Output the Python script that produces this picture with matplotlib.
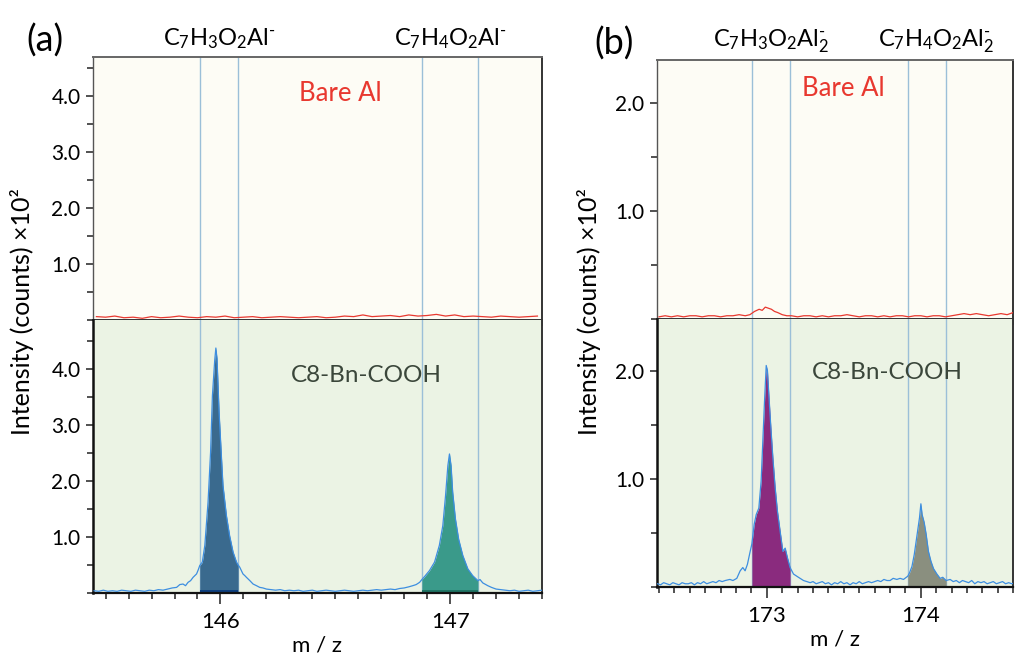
import matplotlib
matplotlib.use("Agg")
import matplotlib.pyplot as plt
from matplotlib.ticker import FixedLocator, MultipleLocator
import numpy as np

plt.rcParams['font.family'] = ['Lato', 'DejaVu Sans']
plt.rcParams['mathtext.fontset'] = 'custom'
plt.rcParams['mathtext.rm'] = 'Lato'
plt.rcParams['mathtext.it'] = 'Lato:italic'

# ---- panel (a): C8-Bn-COOH spectrum (intensity x10^2)
mz_a = [145.45, 145.47, 145.49, 145.51, 145.53, 145.55, 145.57, 145.59, 145.61, 145.63,
        145.65, 145.67, 145.69, 145.71, 145.73, 145.75, 145.77, 145.79, 145.809, 145.823,
        145.837, 145.848, 145.859, 145.870, 145.881, 145.896, 145.903, 145.91, 145.921, 145.932,
        145.946, 145.957, 145.965, 145.975, 145.980, 145.985, 145.994, 146.004, 146.011, 146.026,
        146.040, 146.055, 146.070, 146.077, 146.084, 146.091, 146.098, 146.106, 146.113, 146.128,
        146.142, 146.157, 146.171, 146.185, 146.20, 146.22, 146.24, 146.26, 146.28, 146.30,
        146.32, 146.34, 146.36, 146.38, 146.40, 146.42, 146.44, 146.46, 146.48, 146.50,
        146.52, 146.54, 146.56, 146.58, 146.60, 146.62, 146.64, 146.66, 146.68, 146.70,
        146.72, 146.74, 146.76, 146.78, 146.80, 146.82, 146.837, 146.852, 146.867, 146.877,
        146.89, 146.91, 146.932, 146.953, 146.968, 146.98, 146.99, 146.997, 147.004, 147.011,
        147.023, 147.037, 147.055, 147.077, 147.098, 147.121, 147.13, 147.142, 147.164, 147.18,
        147.20, 147.22, 147.24, 147.26, 147.28, 147.30, 147.32, 147.34, 147.36, 147.38, 147.40]
int_a = [0.04, 0.03, 0.05, 0.03, 0.04, 0.03, 0.05, 0.04, 0.03, 0.05,
         0.04, 0.03, 0.05, 0.04, 0.06, 0.05, 0.07, 0.09, 0.10, 0.15,
         0.16, 0.13, 0.19, 0.22, 0.28, 0.34, 0.41, 0.49, 0.55, 0.85,
         1.62, 2.51, 3.52, 4.15, 4.37, 4.18, 3.23, 2.45, 1.92, 1.38,
         1.02, 0.73, 0.55, 0.50, 0.46, 0.40, 0.34, 0.31, 0.28, 0.22,
         0.16, 0.13, 0.10, 0.09, 0.07, 0.06, 0.05, 0.06, 0.04, 0.05,
         0.04, 0.05, 0.03, 0.04, 0.05, 0.03, 0.04, 0.05, 0.04, 0.03,
         0.04, 0.05, 0.04, 0.03, 0.04, 0.05, 0.04, 0.05, 0.06, 0.05,
         0.06, 0.07, 0.06, 0.08, 0.09, 0.11, 0.13, 0.15, 0.19, 0.24,
         0.30, 0.40, 0.55, 0.85, 1.20, 1.74, 2.27, 2.48, 2.27, 1.80,
         1.32, 0.96, 0.67, 0.43, 0.31, 0.22, 0.24, 0.18, 0.13, 0.10,
         0.07, 0.06, 0.05, 0.04, 0.05, 0.03, 0.04, 0.05, 0.03, 0.04, 0.05]

# ---- panel (a): bare Al
mz_bare_a = [145.46, 145.50, 145.54, 145.58, 145.62, 145.66, 145.70, 145.74, 145.78, 145.82,
             145.86, 145.90, 145.94, 145.98, 146.02, 146.06, 146.10, 146.14, 146.18, 146.22,
             146.26, 146.30, 146.34, 146.38, 146.42, 146.46, 146.50, 146.54, 146.58, 146.62,
             146.66, 146.70, 146.74, 146.78, 146.82, 146.86, 146.90, 146.94, 146.98, 147.02,
             147.06, 147.10, 147.14, 147.18, 147.22, 147.26, 147.30, 147.34, 147.38]
int_bare_a = [0.06, 0.05, 0.07, 0.04, 0.05, 0.03, 0.06, 0.04, 0.05, 0.07,
              0.05, 0.04, 0.06, 0.05, 0.07, 0.04, 0.05, 0.06, 0.04, 0.05,
              0.06, 0.05, 0.04, 0.05, 0.06, 0.04, 0.05, 0.07, 0.06, 0.09,
              0.06, 0.07, 0.08, 0.06, 0.09, 0.07, 0.08, 0.10, 0.07, 0.09,
              0.06, 0.07, 0.06, 0.05, 0.07, 0.06, 0.05, 0.06, 0.07]

# ---- panel (b): C8-Bn-COOH spectrum
mz_b = [172.29, 172.31, 172.33, 172.35, 172.37, 172.39, 172.41, 172.43, 172.45, 172.47,
        172.49, 172.51, 172.53, 172.55, 172.57, 172.59, 172.61, 172.63, 172.65, 172.67,
        172.69, 172.71, 172.73, 172.76, 172.78, 172.805, 172.827, 172.844, 172.859, 172.874,
        172.892, 172.903, 172.918, 172.931, 172.948, 172.963, 172.974, 172.985, 172.996, 173.004,
        173.013, 173.026, 173.039, 173.054, 173.069, 173.086, 173.104, 173.119, 173.134, 173.151,
        173.173, 173.205, 173.238, 173.26, 173.281, 173.30, 173.32, 173.34, 173.36, 173.38,
        173.40, 173.42, 173.44, 173.46, 173.48, 173.50, 173.52, 173.54, 173.56, 173.58,
        173.60, 173.62, 173.64, 173.66, 173.68, 173.70, 173.72, 173.74, 173.76, 173.78,
        173.80, 173.82, 173.844, 173.865, 173.887, 173.915, 173.926, 173.942, 173.957, 173.97,
        173.982, 173.991, 174.00, 174.008, 174.021, 174.034, 174.049, 174.065, 174.082, 174.104,
        174.125, 174.142, 174.164, 174.19, 174.21, 174.23, 174.25, 174.27, 174.29, 174.31,
        174.33, 174.35, 174.37, 174.39, 174.41, 174.43, 174.45, 174.47, 174.49, 174.51,
        174.53, 174.55, 174.57, 174.59, 174.61]
int_b = [0.03, 0.02, 0.04, 0.03, 0.02, 0.04, 0.03, 0.02, 0.04, 0.03,
         0.03, 0.04, 0.02, 0.04, 0.03, 0.05, 0.03, 0.04, 0.05, 0.04,
         0.06, 0.05, 0.06, 0.07, 0.06, 0.08, 0.15, 0.18, 0.15, 0.21,
         0.33, 0.40, 0.58, 0.67, 0.73, 0.98, 1.35, 1.72, 2.05, 2.00,
         1.78, 1.48, 1.20, 0.92, 0.70, 0.52, 0.33, 0.36, 0.27, 0.18,
         0.12, 0.09, 0.06, 0.05, 0.04, 0.05, 0.03, 0.04, 0.05, 0.03,
         0.04, 0.02, 0.04, 0.03, 0.05, 0.03, 0.04, 0.02, 0.04, 0.03,
         0.05, 0.03, 0.04, 0.05, 0.04, 0.05, 0.06, 0.05, 0.07, 0.06,
         0.06, 0.08, 0.07, 0.08, 0.07, 0.10, 0.13, 0.19, 0.30, 0.43,
         0.55, 0.64, 0.77, 0.67, 0.60, 0.49, 0.33, 0.24, 0.17, 0.12,
         0.08, 0.09, 0.06, 0.07, 0.05, 0.06, 0.04, 0.06, 0.05, 0.04,
         0.06, 0.03, 0.05, 0.04, 0.05, 0.03, 0.04, 0.05, 0.03, 0.04,
         0.05, 0.03, 0.04, 0.03, 0.04]

# ---- panel (b): bare Al
mz_bare_b = [172.30, 172.34, 172.38, 172.42, 172.46, 172.50, 172.54, 172.58, 172.62, 172.66,
             172.70, 172.74, 172.78, 172.82, 172.86, 172.89, 172.92, 172.95, 172.97, 172.99,
             173.01, 173.03, 173.05, 173.07, 173.10, 173.13, 173.16, 173.20, 173.24, 173.28,
             173.32, 173.36, 173.40, 173.44, 173.48, 173.52, 173.56, 173.60, 173.64, 173.68,
             173.72, 173.76, 173.80, 173.84, 173.88, 173.92, 173.96, 174.00, 174.04, 174.08,
             174.12, 174.16, 174.20, 174.24, 174.28, 174.32, 174.36, 174.40, 174.44, 174.48,
             174.52, 174.56, 174.60]
int_bare_b = [0.02, 0.03, 0.02, 0.03, 0.02, 0.03, 0.03, 0.02, 0.03, 0.03,
              0.02, 0.03, 0.03, 0.04, 0.03, 0.04, 0.07, 0.09, 0.08, 0.11,
              0.10, 0.09, 0.07, 0.06, 0.04, 0.03, 0.03, 0.02, 0.03, 0.03,
              0.02, 0.03, 0.02, 0.03, 0.03, 0.04, 0.03, 0.02, 0.03, 0.03,
              0.02, 0.03, 0.02, 0.03, 0.03, 0.02, 0.03, 0.03, 0.02, 0.03,
              0.03, 0.02, 0.03, 0.04, 0.05, 0.04, 0.05, 0.04, 0.03, 0.04,
              0.05, 0.04, 0.06]

# integration windows (m/z) and their fill colours
windows_a = [(145.91, 146.077), (146.877, 147.121)]
colors_a = ['#3a6a8e', '#3a9a8a']
windows_b = [(172.903, 173.151), (173.915, 174.164)]
colors_b = ['#8a2b7e', '#8a8f7f']

labels_a = [r'C$_7$H$_3$O$_2$Al$^{\text{-}}$', r'C$_7$H$_4$O$_2$Al$^{\text{-}}$']
labels_b = [r'C$_7$H$_3$O$_2$Al$_2^{\text{-}}$', r'C$_7$H$_4$O$_2$Al$_2^{\text{-}}$']

top_bg = '#fdfcf5'
bot_bg = '#ebf3e4'
line_blue = '#3d8ee0'
win_line = '#9bbfd8'
dark = '#333333'

fig = plt.figure(figsize=(10.16, 6.58), dpi=100)


def style_axis(ax, bg):
    ax.set_facecolor(bg)
    for s in ax.spines.values():
        s.set_color(dark)
        s.set_linewidth(1.4)
    ax.tick_params(axis='both', which='major', direction='out', length=5, width=1.2,
                   color=dark, labelsize=15, pad=4)
    ax.tick_params(axis='both', which='minor', direction='out', length=4, width=1.2, color=dark)


def make_panel(rect_top, rect_bot, xlim, ytop, ybot, yticks, mz, inten, mz_bare, inten_bare,
               windows, colors, xticks, dark_strip):
    ax_t = fig.add_axes(rect_top)
    ax_b = fig.add_axes(rect_bot)
    style_axis(ax_t, top_bg)
    style_axis(ax_b, bot_bg)
    ax_b.spines['top'].set_visible(False)
    ax_t.spines['top'].set_color('#666666')
    ax_t.spines['left'].set_color('#555555')
    ax_t.spines['left'].set_linewidth(1.0)
    ax_b.spines['left'].set_color('#111111')
    ax_b.spines['left'].set_linewidth(1.8)
    ax_b.spines['bottom'].set_color('#111111')
    ax_b.spines['bottom'].set_linewidth(1.6)

    for lo, hi in windows:
        for ax in (ax_t, ax_b):
            ax.axvline(lo, color=win_line, lw=1.0, zorder=1)
            ax.axvline(hi, color=win_line, lw=1.0, zorder=1)

    ax_t.plot(mz_bare, inten_bare, color='#e8382f', lw=0.9, zorder=3)

    mz = np.array(mz)
    inten = np.array(inten)
    for (lo, hi), c in zip(windows, colors):
        m = (mz >= lo - 1e-6) & (mz <= hi + 1e-6)
        ax_b.fill_between(mz[m], 0, inten[m], color=c, lw=0, zorder=2)
        if dark_strip:
            ax_b.fill_between(mz[m], 0, 0.06, color='#0d3f7f' if c == colors[0] else '#1f7565',
                              lw=0, zorder=2.5)
    ax_b.plot(mz, inten, color=line_blue, lw=0.9, zorder=3)

    for ax in (ax_t, ax_b):
        ax.set_xlim(*xlim)
        ax.xaxis.set_major_locator(FixedLocator(xticks))
        ax.xaxis.set_minor_locator(MultipleLocator(0.1))
        ax.yaxis.set_major_locator(FixedLocator(yticks))
        ax.yaxis.set_minor_locator(MultipleLocator(0.5))
        ax.set_yticklabels(['%.1f' % v for v in yticks])
    ax_t.set_ylim(0, ytop)
    ax_b.set_ylim(0, ybot)
    ax_t.tick_params(axis='x', which='both', labelbottom=False)
    ax_b.set_xticklabels([str(v) for v in xticks])
    ax_b.tick_params(axis='x', which='major', length=8, pad=6, labelsize=16)
    ax_b.set_xlabel('m / z', fontsize=16, labelpad=2)
    return ax_t, ax_b


ax_ta, ax_ba = make_panel([0.0915, 0.5137, 0.442, 0.4003], [0.0915, 0.0988, 0.442, 0.4149],
                          (145.445, 147.40), 4.70, 4.87, [1, 2, 3, 4], mz_a, int_a,
                          mz_bare_a, int_bare_a, windows_a, colors_a, [146, 147], True)
ax_tb, ax_bb = make_panel([0.6465, 0.5152, 0.351, 0.3936], [0.6465, 0.1079, 0.351, 0.4073],
                          (172.286, 174.601), 2.40, 2.48, [1, 2], mz_b, int_b,
                          mz_bare_b, int_bare_b, windows_b, colors_b, [173, 174], False)

# formula labels above the integration windows
for (lo, hi), lab in zip(windows_a, labels_a):
    ax_ta.annotate(lab, xy=((lo + hi) / 2, 1.0), xycoords=('data', 'axes fraction'),
                   xytext=(0, 4), textcoords='offset points', ha='center', va='bottom', fontsize=17)
for (lo, hi), lab, off in zip(windows_b, labels_b, [0, 0.06]):
    ax_tb.annotate(lab, xy=((lo + hi) / 2 + off, 1.0), xycoords=('data', 'axes fraction'),
                   xytext=(0, 4), textcoords='offset points', ha='center', va='bottom', fontsize=17)

fig.text(0.044, 0.938, '(a)', fontsize=26, ha='center', va='center')
fig.text(0.604, 0.934, '(b)', fontsize=26, ha='center', va='center')

fig.text(0.335, 0.858, 'Bare Al', color='#e8382f', fontsize=18.5, ha='center', va='center')
fig.text(0.830, 0.865, 'Bare Al', color='#e8382f', fontsize=18.5, ha='center', va='center')
fig.text(0.361, 0.430, 'C8-Bn-COOH', color='#3a463a', fontsize=17.5, ha='center', va='center')
fig.text(0.873, 0.434, 'C8-Bn-COOH', color='#3a463a', fontsize=17.5, ha='center', va='center')

fig.text(0.022, 0.527, 'Intensity (counts) ×10²', fontsize=18, rotation=90, ha='center', va='center')
fig.text(0.580, 0.527, 'Intensity (counts) ×10²', fontsize=18, rotation=90, ha='center', va='center')

fig.savefig('out.png', dpi=100)
